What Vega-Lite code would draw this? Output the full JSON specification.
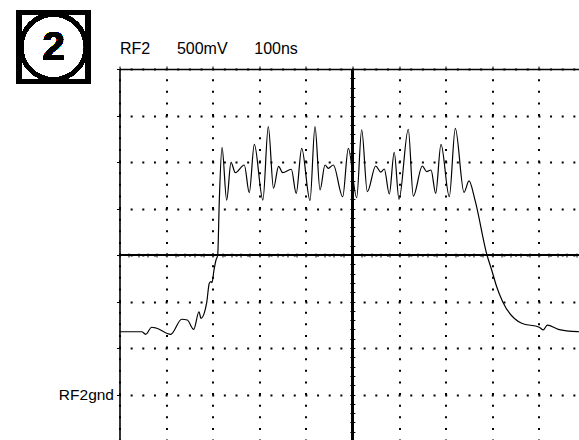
{
  "$schema": "https://vega.github.io/schema/vega-lite/v6.json",
  "autosize": "none",
  "padding": {"left": 119.5, "top": 69, "right": 0, "bottom": 0},
  "width": 459.5,
  "height": 371,
  "background": "white",
  "config": {"view": {"stroke": null}, "font": "Liberation Sans"},
  "data": {"values": [
    {"t": 0, "v": 0.675}, {"t": 47.6, "v": 0.675}, {"t": 56.2, "v": 0.647}, {"t": 69.1, "v": 0.723},
    {"t": 78.3, "v": 0.715}, {"t": 109.9, "v": 0.647}, {"t": 133.5, "v": 0.809}, {"t": 145.5, "v": 0.801},
    {"t": 159.2, "v": 0.701}, {"t": 170.6, "v": 0.89}, {"t": 174.9, "v": 0.819}, {"t": 187.1, "v": 0.987},
    {"t": 192.7, "v": 1.196}, {"t": 196.4, "v": 1.213}, {"t": 198.5, "v": 1.202}, {"t": 202.8, "v": 1.339},
    {"t": 207.1, "v": 1.446}, {"t": 210.7, "v": 1.5}, {"t": 214.2, "v": 2.091}, {"t": 220.0, "v": 2.658},
    {"t": 230.0, "v": 2.091}, {"t": 239.3, "v": 2.497}, {"t": 248.5, "v": 2.385}, {"t": 267.8, "v": 2.468},
    {"t": 278.5, "v": 2.17}, {"t": 289.3, "v": 2.69}, {"t": 307.7, "v": 2.091}, {"t": 319.3, "v": 2.882},
    {"t": 330.5, "v": 2.218}, {"t": 341.4, "v": 2.454}, {"t": 350.2, "v": 2.385}, {"t": 368.7, "v": 2.422},
    {"t": 379.2, "v": 2.163}, {"t": 391.0, "v": 2.647}, {"t": 408.8, "v": 2.086}, {"t": 419.5, "v": 2.88},
    {"t": 430.3, "v": 2.199}, {"t": 441.0, "v": 2.468}, {"t": 448.1, "v": 2.432}, {"t": 458.8, "v": 2.468},
    {"t": 479.0, "v": 2.127}, {"t": 491.0, "v": 2.647}, {"t": 509.0, "v": 2.116}, {"t": 519.7, "v": 2.847},
    {"t": 531.8, "v": 2.181}, {"t": 549.8, "v": 2.457}, {"t": 560.5, "v": 2.392}, {"t": 568.2, "v": 2.425},
    {"t": 579.0, "v": 2.156}, {"t": 589.5, "v": 2.605}, {"t": 599.8, "v": 2.099}, {"t": 619.7, "v": 2.852},
    {"t": 630.5, "v": 2.134}, {"t": 649.8, "v": 2.457}, {"t": 659.2, "v": 2.396}, {"t": 668.5, "v": 2.414},
    {"t": 678.5, "v": 2.163}, {"t": 689.9, "v": 2.69}, {"t": 707.7, "v": 2.127}, {"t": 720.6, "v": 2.862},
    {"t": 739.3, "v": 2.174}, {"t": 750.0, "v": 2.296}, {"t": 762.9, "v": 2.091}, {"t": 788.6, "v": 1.5},
    {"t": 798.7, "v": 1.339}, {"t": 809.4, "v": 1.159}, {"t": 822.3, "v": 0.998}, {"t": 863.1, "v": 0.766},
    {"t": 900.9, "v": 0.723}, {"t": 909.4, "v": 0.694}, {"t": 918.0, "v": 0.747}, {"t": 941.6, "v": 0.701},
    {"t": 984.5, "v": 0.675}, {"t": 998.9, "v": 0.672}
  ]},
  "resolve": {"axis": {"x": "independent", "y": "independent"}},
  "layer": [
    {
      "mark": {"type": "line", "color": "black", "strokeWidth": 1.2, "interpolate": "monotone", "clip": true},
      "encoding": {
        "x": {
          "field": "t", "type": "quantitative",
          "scale": {"domain": [0, 986.05], "nice": false, "zero": false},
          "axis": {
            "orient": "top",
            "title": "\u00a0RF2\u00a0\u00a0\u00a0\u00a0\u00a0\u00a0500mV\u00a0\u00a0\u00a0\u00a0\u00a0\u00a0100ns",
            "titleAnchor": "start", "titleAlign": "left",
            "titleFont": "Liberation Sans", "titleFontSize": 16, "titleFontWeight": "normal",
            "titleColor": "black", "titlePadding": 9,
            "labels": false,
            "values": [0, 100, 200, 300, 400, 500, 600, 700, 800, 900],
            "domain": true, "domainColor": "black", "domainWidth": 1.6,
            "ticks": true, "tickSize": 3, "tickColor": "black", "tickWidth": 1,
            "grid": true, "gridColor": "black", "gridOpacity": 1, "gridWidth": 2,
            "gridDash": [2, 9.625], "gridDashOffset": 1
          }
        },
        "y": {
          "field": "v", "type": "quantitative",
          "scale": {"domain": [-0.4892, 3.5], "nice": false, "zero": false},
          "axis": {
            "orient": "left", "title": null,
            "values": [0, 0.5, 1, 1.5, 2, 2.5, 3, 3.5],
            "labelExpr": "datum.value === 0 ? 'RF2gnd' : ''",
            "labelFont": "Liberation Sans", "labelFontSize": 15.5, "labelColor": "black",
            "labelPadding": 3,
            "domain": true, "domainColor": "black", "domainWidth": 1.6,
            "ticks": true, "tickSize": 3, "tickColor": "black", "tickWidth": 1,
            "grid": true, "gridColor": "black", "gridOpacity": 1, "gridWidth": 2,
            "gridDash": [2, 9.65], "gridDashOffset": 1
          }
        }
      }
    },
    {
      "mark": {"type": "rule", "color": "black", "strokeWidth": 1.5},
      "encoding": {
        "x": {
          "datum": 500, "type": "quantitative",
          "scale": {"domain": [0, 986.05], "nice": false, "zero": false},
          "axis": {
            "orient": "bottom", "offset": -187, "title": null, "labels": false,
            "domain": false, "grid": false,
            "ticks": true, "tickSize": 4, "tickColor": "black", "tickWidth": 1,
            "values": [0, 20, 40, 60, 80, 100, 120, 140, 160, 180, 200, 220, 240, 260, 280, 300, 320, 340, 360, 380, 400, 420, 440, 460, 480, 500, 520, 540, 560, 580, 600, 620, 640, 660, 680, 700, 720, 740, 760, 780, 800, 820, 840, 860, 880, 900, 920, 940, 960, 980]
          }
        }
      }
    },
    {
      "mark": {"type": "rule", "color": "black", "strokeWidth": 1.5},
      "encoding": {
        "y": {
          "datum": 1.5, "type": "quantitative",
          "scale": {"domain": [-0.4892, 3.5], "nice": false, "zero": false},
          "axis": {
            "orient": "left", "offset": -235.4, "title": null, "labels": false,
            "domain": false, "grid": false,
            "ticks": true, "tickSize": 5, "tickColor": "black", "tickWidth": 1,
            "values": [-0.4, -0.3, -0.2, -0.1, 0, 0.1, 0.2, 0.3, 0.4, 0.5, 0.6, 0.7, 0.8, 0.9, 1, 1.1, 1.2, 1.3, 1.4, 1.5, 1.6, 1.7, 1.8, 1.9, 2, 2.1, 2.2, 2.3, 2.4, 2.5, 2.6, 2.7, 2.8, 2.9, 3, 3.1, 3.2, 3.3, 3.4, 3.5]
          }
        }
      }
    },
    {
      "mark": {"type": "point", "shape": "square", "filled": false, "stroke": "black", "strokeWidth": 4.5, "size": 4761, "opacity": 1, "clip": false},
      "encoding": {
        "x": {"datum": -141.6, "type": "quantitative", "scale": {"domain": [0, 986.05], "nice": false, "zero": false}, "axis": null},
        "y": {"datum": 3.737, "type": "quantitative", "scale": {"domain": [-0.4892, 3.5], "nice": false, "zero": false}, "axis": null}
      }
    },
    {
      "mark": {"type": "point", "shape": "circle", "filled": false, "stroke": "black", "strokeWidth": 4, "size": 4225, "opacity": 1, "clip": false},
      "encoding": {
        "x": {"datum": -141.6, "type": "quantitative", "scale": {"domain": [0, 986.05], "nice": false, "zero": false}, "axis": null},
        "y": {"datum": 3.737, "type": "quantitative", "scale": {"domain": [-0.4892, 3.5], "nice": false, "zero": false}, "axis": null}
      }
    },
    {
      "mark": {"type": "text", "text": "2", "font": "Liberation Sans", "fontSize": 40, "fontWeight": "bold", "color": "black", "align": "center", "baseline": "middle", "dy": 1, "clip": false},
      "encoding": {
        "x": {"datum": -141.6, "type": "quantitative", "scale": {"domain": [0, 986.05], "nice": false, "zero": false}, "axis": null},
        "y": {"datum": 3.737, "type": "quantitative", "scale": {"domain": [-0.4892, 3.5], "nice": false, "zero": false}, "axis": null}
      }
    }
  ]
}
